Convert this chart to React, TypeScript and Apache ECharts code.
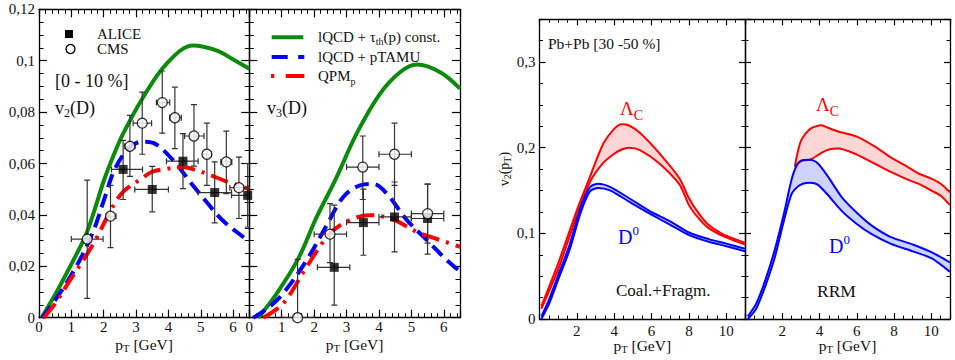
import React, { useEffect, useRef } from 'react';
import * as echarts from 'echarts';

const FONT = 'Liberation Serif';
const GREEN = '#0b8a0b';
const BLUE = '#0000ff';
const RED = '#ff0000';
const BAR = '#333333';

// ---------- Panel 1: v2(D), 0-10 % ----------
const P1_GREEN_X = [0.08, 0.5, 0.85, 1.27, 1.49, 1.75, 2.0, 2.3, 2.6, 3.22, 3.94, 4.76, 5.48, 6.0, 6.5];
const P1_GREEN_Y = [0, 0.009, 0.0172, 0.0275, 0.0335, 0.0432, 0.0532, 0.063, 0.0716, 0.0858, 0.0988, 0.1059, 0.104, 0.1005, 0.0969];
const P1_BLUE_X = [0.1, 0.5, 0.85, 1.2, 1.5, 1.75, 2.04, 2.35, 2.81, 3.2, 3.53, 4.15, 4.71, 5.18, 5.69, 6.3, 6.5];
const P1_BLUE_Y = [0, 0.0068, 0.0135, 0.021, 0.0285, 0.036, 0.047, 0.058, 0.0664, 0.0685, 0.068, 0.0612, 0.0522, 0.045, 0.0377, 0.0315, 0.0295];
const P1_RED_X = [0.15, 0.5, 0.96, 1.4, 1.78, 2.1, 2.4, 2.65, 3.17, 3.48, 3.84, 4.4, 4.87, 5.23, 5.84, 6.5];
const P1_RED_Y = [0, 0.0055, 0.0146, 0.023, 0.031, 0.039, 0.0457, 0.0496, 0.0541, 0.0567, 0.0577, 0.0586, 0.0574, 0.0558, 0.0528, 0.05];
// rows: [pT, v, pTlo, pThi, vlo, vhi]
const P1_ALICE = [
  [2.6, 0.0577, 2.24, 3.2, 0.046, 0.069],
  [3.5, 0.0499, 2.96, 4.0, 0.0412, 0.0589],
  [4.45, 0.0609, 3.94, 4.92, 0.0502, 0.0716],
  [5.43, 0.0487, 4.92, 5.95, 0.0369, 0.0606],
  [6.45, 0.0476, 5.95, 6.95, 0.0353, 0.06],
];
const P1_CMS = [
  [1.49, 0.0306, 1.0, 1.98, 0.0075, 0.0535],
  [2.21, 0.0395, 2.07, 2.38, 0.0273, 0.0515],
  [2.81, 0.0667, 2.65, 2.97, 0.055, 0.0787],
  [3.19, 0.0757, 2.91, 3.48, 0.0636, 0.0878],
  [3.81, 0.0837, 3.63, 4.04, 0.0718, 0.096],
  [4.2, 0.0778, 4.04, 4.4, 0.0658, 0.0897],
  [4.79, 0.0707, 4.5, 5.1, 0.059, 0.0829],
  [5.19, 0.0636, 5.07, 5.33, 0.0515, 0.0757],
  [5.79, 0.0606, 5.62, 5.96, 0.0483, 0.0726],
  [6.18, 0.0506, 5.9, 6.46, 0.0386, 0.0625],
];

// ---------- Panel 2: v3(D) ----------
const P2_GREEN_X = [0.28, 0.85, 1.51, 2.08, 2.65, 3.31, 4.03, 4.65, 5.17, 5.89, 6.5];
const P2_GREEN_Y = [0, 0.0095, 0.023, 0.0392, 0.0535, 0.0716, 0.0871, 0.0955, 0.0985, 0.0955, 0.0891];
const P2_BLUE_X = [0.12, 0.6, 1.05, 1.77, 2.39, 2.9, 3.42, 3.83, 4.24, 4.86, 5.48, 6.09, 6.5];
const P2_BLUE_Y = [0, 0.004, 0.0095, 0.0224, 0.036, 0.047, 0.0515, 0.052, 0.0483, 0.038, 0.0302, 0.0224, 0.018];
const P2_RED_X = [0.43, 1.05, 1.77, 2.49, 3.11, 3.72, 4.44, 5.17, 5.89, 6.5];
const P2_RED_Y = [0, 0.0056, 0.0198, 0.0328, 0.038, 0.0399, 0.0382, 0.0334, 0.0302, 0.0276];
const P2_ALICE = [
  [2.62, 0.0196, 2.1, 3.1, 0.0049, 0.0438],
  [3.52, 0.037, 3.0, 4.0, 0.0243, 0.05],
  [4.48, 0.0392, 4.0, 5.0, 0.0256, 0.0528],
  [5.5, 0.0386, 5.0, 6.0, 0.0247, 0.052],
];
const P2_CMS = [
  [1.49, 0.0, 1.0, 2.0, -0.02, 0.0227],
  [2.49, 0.0325, 2.0, 3.0, 0.0214, 0.0444],
  [3.5, 0.0586, 3.0, 4.0, 0.046, 0.0707],
  [4.48, 0.0636, 4.0, 5.0, 0.0515, 0.0757],
  [5.5, 0.0405, 5.0, 6.0, 0.029, 0.052],
];

// ---------- Panel 3: Coal.+Fragm. ----------
const P3_LC_X = [0.1, 1.0, 2.0, 2.7, 3.4, 4.0, 4.4, 4.8, 5.4, 6.4, 7.5, 8.0, 8.5, 9.0, 9.8, 10.5, 11.0];
const P3_LC_HI = [0.015, 0.065, 0.127, 0.166, 0.204, 0.222, 0.2275, 0.226, 0.217, 0.194, 0.164, 0.141, 0.124, 0.111, 0.099, 0.093, 0.089];
const P3_LC_LO = [0.012, 0.058, 0.121, 0.16, 0.182, 0.193, 0.198, 0.1999, 0.197, 0.182, 0.157, 0.133, 0.118, 0.107, 0.097, 0.091, 0.087];
const P3_D_X = [0.1, 0.5, 1.0, 1.6, 2.2, 2.7, 3.15, 3.8, 4.8, 5.9, 7.0, 8.0, 9.1, 10.0, 11.0];
const P3_D_HI = [0.003, 0.022, 0.051, 0.086, 0.13, 0.154, 0.158, 0.154, 0.141, 0.126, 0.114, 0.101, 0.093, 0.088, 0.082];
const P3_D_LO = [0.0, 0.017, 0.046, 0.08, 0.124, 0.149, 0.153, 0.15, 0.137, 0.123, 0.11, 0.098, 0.09, 0.085, 0.079];

// ---------- Panel 4: RRM ----------
const P4_LC_X = [2.67, 3.0, 3.5, 4.1, 4.5, 5.0, 6.0, 7.0, 7.8, 8.7, 9.3, 10.0, 10.5, 11.0];
const P4_LC_HI = [0.178, 0.208, 0.222, 0.2264, 0.223, 0.219, 0.213, 0.201, 0.189, 0.178, 0.17, 0.164, 0.158, 0.148];
const P4_LC_LO = [0.178, 0.185, 0.186, 0.194, 0.198, 0.199, 0.192, 0.181, 0.172, 0.163, 0.158, 0.15, 0.144, 0.133];
const P4_D_X = [0.15, 0.6, 1.1, 1.6, 2.1, 2.5, 2.8, 3.1, 3.5, 3.9, 4.4, 5.2, 6.0, 6.8, 7.8, 9.0, 10.0, 11.0];
const P4_D_HI = [0.003, 0.018, 0.046, 0.081, 0.124, 0.163, 0.18, 0.1855, 0.186, 0.182, 0.168, 0.142, 0.124, 0.109, 0.096, 0.087, 0.078, 0.066];
const P4_D_LO = [0.0, 0.012, 0.039, 0.072, 0.116, 0.146, 0.154, 0.158, 0.159, 0.157, 0.146, 0.126, 0.111, 0.099, 0.088, 0.079, 0.071, 0.055];

// tick label sets
const LEFT_X_LABEL_MAX = 6;
const RIGHT_X_LABEL_MAX = 10;
const LEFT_Y_LABEL_MAX = 0.12;
const RIGHT_Y_LABEL_MAX = 0.3;

const comma = (maxShow: number) => (v: number) => {
  if (v > maxShow + 1e-9) return '';
  if (Math.abs(v) < 1e-9) return '0';
  return String(Math.round(v * 1000) / 1000).replace('.', ',');
};
const intLabel = (minShow: number, maxShow: number) => (v: number) =>
  v >= minShow - 1e-9 && v <= maxShow + 1e-9 ? String(Math.round(v)) : '';

const ptName = '{n|p}{s|T}{n| [GeV]}';
const nameStyle = {
  fontFamily: FONT,
  fontSize: 15.5,
  color: '#111',
  rich: {
    n: { fontFamily: FONT, fontSize: 15.5, lineHeight: 19, color: '#111' },
    s: { fontFamily: FONT, fontSize: 10.5, verticalAlign: 'bottom', color: '#111' },
  },
};

function buildOption() {
  const xAxes: any[] = [];
  const yAxes: any[] = [];

  function addPair(
    list: any[], grid: number, min: number, max: number, major: number, minor: number,
    position: string, majorLen: number, minorLen: number,
    fmt: ((v: number) => string) | null, margin: number, extra: any = {}
  ) {
    const base = { type: 'value', gridIndex: grid, min, max, position, splitLine: { show: false } };
    const idx = list.length;
    list.push({
      ...base,
      interval: major,
      axisLine: { show: true, onZero: false, lineStyle: { color: '#000', width: 1.3 } },
      axisTick: { show: true, inside: true, length: majorLen, lineStyle: { color: '#000', width: 1.2 } },
      axisLabel: fmt
        ? { show: true, formatter: fmt, margin, fontFamily: FONT, fontSize: 15, color: '#111' }
        : { show: false },
      ...extra,
    });
    list.push({
      ...base,
      interval: minor,
      axisLine: { show: false, onZero: false },
      axisTick: { show: true, inside: true, length: minorLen, lineStyle: { color: '#000', width: 1 } },
      axisLabel: { show: false },
    });
    return idx;
  }

  const grids = [
    { left: 39, top: 9.3, width: 210.3, height: 308.4 },
    { left: 249.3, top: 9.3, width: 210.7, height: 308.4 },
    { left: 539.5, top: 19.3, width: 205.5, height: 299.7 },
    { left: 745, top: 19.3, width: 205, height: 299.7 },
  ].map((g) => ({ ...g, containLabel: false, outerBoundsMode: 'none' }));

  const xName = (gap: number) => ({
    name: ptName, nameLocation: 'middle', nameGap: gap, nameTextStyle: nameStyle, nameMoveOverlap: false,
  });

  const ax: { x: number; y: number }[] = [];
  // Left panels
  for (let g = 0; g < 2; g++) {
    const x = addPair(xAxes, g, 0, 6.5, 1, 0.2, 'bottom', 8, 4.5, intLabel(0, LEFT_X_LABEL_MAX), 2, xName(17));
    addPair(xAxes, g, 0, 6.5, 1, 0.2, 'top', 8, 4.5, null, 0);
    const y = addPair(yAxes, g, 0, 0.12, 0.02, 0.005, 'left', 8, 4.5, g === 0 ? comma(LEFT_Y_LABEL_MAX) : null, 4);
    addPair(yAxes, g, 0, 0.12, 0.02, 0.005, 'right', 8, 4.5, null, 0);
    ax.push({ x, y });
  }
  // Right panels
  for (let g = 2; g < 4; g++) {
    const x = addPair(xAxes, g, 0, 11, 2, 0.5, 'bottom', 6, 3.5, intLabel(1, RIGHT_X_LABEL_MAX), 4, xName(17));
    addPair(xAxes, g, 0, 11, 2, 0.5, 'top', 6, 3.5, null, 0);
    const yExtra = g === 2
      ? {
          name: '{n|v}{s|2}{n|(p}{s|T}{n|)}', nameLocation: 'middle', nameGap: 27, nameMoveOverlap: false,
          nameTextStyle: {
            fontFamily: FONT, fontSize: 14, color: '#111',
            rich: {
              n: { fontFamily: FONT, fontSize: 14, lineHeight: 17, color: '#111' },
              s: { fontFamily: FONT, fontSize: 10, verticalAlign: 'bottom', color: '#111' },
            },
          },
        }
      : {};
    const y = addPair(yAxes, g, 0, 0.35, 0.1, 0.025, 'left', 6, 3.5, g === 2 ? comma(RIGHT_Y_LABEL_MAX) : null, 4, yExtra);
    addPair(yAxes, g, 0, 0.35, 0.1, 0.025, 'right', 6, 3.5, null, 0);
    ax.push({ x, y });
  }

  const zip = (xs: number[], ys: number[]) => xs.map((x, i) => [x, ys[i]]);

  const lineS = (p: number, xs: number[], ys: number[], color: string, width: number, dash: any, smooth = 0.35) => ({
    type: 'line', xAxisIndex: ax[p].x, yAxisIndex: ax[p].y, data: zip(xs, ys),
    showSymbol: false, symbol: 'none', smooth, silent: true, z: 3,
    lineStyle: { color, width, type: dash, cap: 'butt', join: 'round' },
  });

  const errS = (p: number, rows: number[][]) => ({
    type: 'custom', xAxisIndex: ax[p].x, yAxisIndex: ax[p].y, data: rows, clip: true, silent: true, z: 4,
    renderItem: (_params: any, api: any) => {
      const x = api.value(0), y = api.value(1);
      const l = api.coord([api.value(2), y]);
      const r = api.coord([api.value(3), y]);
      const t = api.coord([x, api.value(5)]);
      const b = api.coord([x, api.value(4)]);
      const cap = 3;
      const style = { stroke: BAR, lineWidth: 1.2 };
      const seg = (x1: number, y1: number, x2: number, y2: number) => ({ type: 'line', shape: { x1, y1, x2, y2 }, style });
      return {
        type: 'group',
        children: [
          seg(l[0], l[1], r[0], r[1]),
          seg(l[0], l[1] - cap, l[0], l[1] + cap),
          seg(r[0], r[1] - cap, r[0], r[1] + cap),
          seg(t[0], t[1], b[0], b[1]),
          seg(t[0] - cap, t[1], t[0] + cap, t[1]),
          seg(b[0] - cap, b[1], b[0] + cap, b[1]),
        ],
      };
    },
  });

  const aliceS = (p: number, rows: number[][]) => ({
    type: 'scatter', xAxisIndex: ax[p].x, yAxisIndex: ax[p].y, data: rows.map((r) => [r[0], r[1]]),
    symbol: 'rect', symbolSize: 9, itemStyle: { color: '#000' }, silent: true, z: 5, clip: false,
  });
  const cmsS = (p: number, rows: number[][]) => ({
    type: 'scatter', xAxisIndex: ax[p].x, yAxisIndex: ax[p].y, data: rows.map((r) => [r[0], r[1]]),
    symbol: 'circle', symbolSize: 10, itemStyle: { color: '#fff', borderColor: '#000', borderWidth: 1.3 },
    silent: true, z: 5, clip: false,
  });

  const bandFill = (p: number, xs: number[], lo: number[], hi: number[], fill: string) => ({
    type: 'custom', xAxisIndex: ax[p].x, yAxisIndex: ax[p].y, data: xs.map((x, i) => [x, lo[i], hi[i]]),
    clip: true, silent: true, z: 2,
    renderItem: (params: any, api: any) => {
      if (params.dataIndex !== 0) return null;
      const top = xs.map((x, i) => api.coord([x, hi[i]]));
      const bot = xs.map((x, i) => api.coord([x, lo[i]])).reverse();
      return { type: 'polygon', shape: { points: top.concat(bot) }, style: { fill, stroke: 'none' } };
    },
  });

  const band = (p: number, xs: number[], lo: number[], hi: number[], color: string, fill: string) => [
    bandFill(p, xs, lo, hi, fill),
    lineS(p, xs, hi, color, 2, 'solid', 0.25),
    lineS(p, xs, lo, color, 2, 'solid', 0.25),
  ];

  const BLUE_DASH = [14, 7];
  const RED_DASH = [18, 7, 3, 7];

  const series: any[] = [
    lineS(0, P1_GREEN_X, P1_GREEN_Y, GREEN, 4, 'solid'),
    lineS(0, P1_BLUE_X, P1_BLUE_Y, BLUE, 4, BLUE_DASH),
    lineS(0, P1_RED_X, P1_RED_Y, RED, 4, RED_DASH),
    errS(0, P1_ALICE), errS(0, P1_CMS), aliceS(0, P1_ALICE), cmsS(0, P1_CMS),
    lineS(1, P2_GREEN_X, P2_GREEN_Y, GREEN, 4, 'solid'),
    lineS(1, P2_BLUE_X, P2_BLUE_Y, BLUE, 4, BLUE_DASH),
    lineS(1, P2_RED_X, P2_RED_Y, RED, 4, RED_DASH),
    errS(1, P2_ALICE), errS(1, P2_CMS), aliceS(1, P2_ALICE), cmsS(1, P2_CMS),
    ...band(2, P3_LC_X, P3_LC_LO, P3_LC_HI, RED, 'rgba(255,70,70,0.22)'),
    ...band(2, P3_D_X, P3_D_LO, P3_D_HI, BLUE, 'rgba(60,80,255,0.25)'),
    ...band(3, P4_LC_X, P4_LC_LO, P4_LC_HI, RED, 'rgba(255,70,70,0.22)'),
    ...band(3, P4_D_X, P4_D_LO, P4_D_HI, BLUE, 'rgba(60,80,255,0.25)'),
  ];

  const txt = (x: number, y: number, text: string, size: number, color = '#111', rich?: any) => ({
    type: 'text', x, y, z: 100, silent: true,
    style: { text, fill: color, fontFamily: FONT, fontSize: size, align: 'left', verticalAlign: 'middle', rich },
  });
  const subRich = (main: number, sub: number, lh: number, color: string) => ({
    n: { fontFamily: FONT, fontSize: main, lineHeight: lh, fill: color },
    s: { fontFamily: FONT, fontSize: sub, verticalAlign: 'bottom', fill: color },
    u: { fontFamily: FONT, fontSize: sub, verticalAlign: 'top', fill: color },
  });

  const graphic: any[] = [
    // legend panel 1
    { type: 'rect', z: 100, shape: { x: 65, y: 30, width: 8, height: 8 }, style: { fill: '#000' } },
    { type: 'circle', z: 100, shape: { cx: 70.5, cy: 49, r: 4.5 }, style: { fill: '#fff', stroke: '#000', lineWidth: 1.3 } },
    txt(97, 34, 'ALICE', 15),
    txt(97, 49, 'CMS', 15),
    txt(55, 81, '[0 - 10 %]', 18),
    txt(55, 108, '{n|v}{s|2}{n|(D)}', 18, '#111', subRich(18, 12, 22, '#111')),
    // legend panel 2
    { type: 'line', z: 100, shape: { x1: 271.7, y1: 37.3, x2: 303.3, y2: 37.3 }, style: { stroke: GREEN, lineWidth: 4 } },
    { type: 'line', z: 100, shape: { x1: 271.7, y1: 57, x2: 304.3, y2: 57 }, style: { stroke: BLUE, lineWidth: 4, lineDash: [16, 10.5] } },
    { type: 'line', z: 100, shape: { x1: 271, y1: 76, x2: 304.3, y2: 76 }, style: { stroke: RED, lineWidth: 4, lineDash: [3.3, 11.4, 19, 11] } },
    txt(318, 37, '{n|lQCD + τ}{s|th}{n|(p) const.}', 15, '#111', subRich(15, 10, 19, '#111')),
    txt(318, 57, 'lQCD + pTAMU', 15),
    txt(318, 76, '{n|QPM}{s|p}', 15, '#111', subRich(15, 10, 21, '#111')),
    txt(267, 108, '{n|v}{s|3}{n|(D)}', 18, '#111', subRich(18, 12, 22, '#111')),
    // panel 3
    txt(548, 43, 'Pb+Pb [30 -50 %]', 15.5),
    txt(620, 108, '{n|Λ}{s|C}', 18, RED, subRich(19, 14, 28, RED)),
    txt(618, 237, '{n|D}{u|0}', 19, BLUE, subRich(20, 13, 27, BLUE)),
    txt(616, 290, 'Coal.+Fragm.', 17),
    // panel 4
    txt(816, 104, '{n|Λ}{s|C}', 18, RED, subRich(19, 14, 28, RED)),
    txt(829, 246, '{n|D}{u|0}', 19, BLUE, subRich(20, 13, 27, BLUE)),
    txt(817, 291, 'RRM', 17.5),
  ];

  return {
    animation: false,
    backgroundColor: '#fff',
    grid: grids,
    xAxis: xAxes,
    yAxis: yAxes,
    series,
    graphic,
  };
}

export default function App() {
  const ref = useRef<HTMLDivElement>(null);
  useEffect(() => {
    const chart = echarts.init(ref.current!, null, { renderer: 'svg' });
    chart.setOption(buildOption() as any);
    return () => chart.dispose();
  }, []);
  return (
    <div
      ref={ref}
      style={{ position: 'fixed', left: 0, top: 0, width: 955, height: 360, background: '#fff' }}
    />
  );
}
